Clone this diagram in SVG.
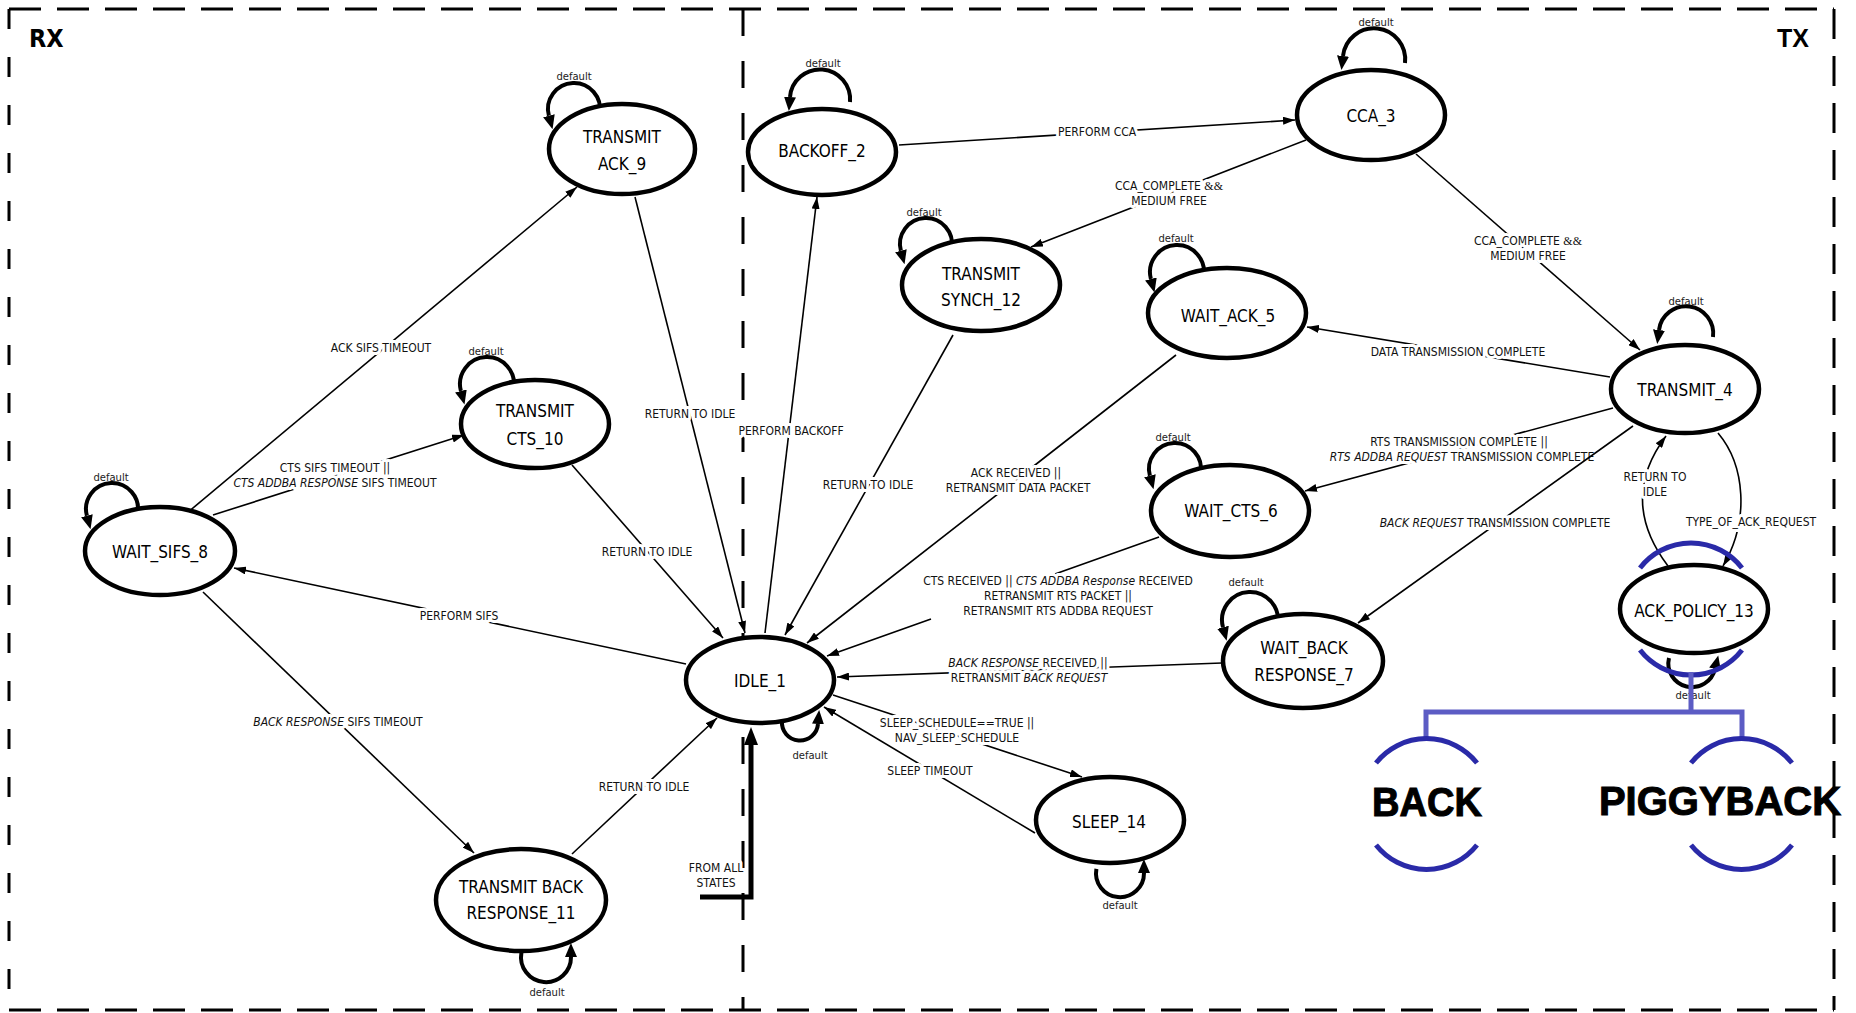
<svg xmlns="http://www.w3.org/2000/svg" width="1856" height="1013" viewBox="0 0 1856 1013">
<defs>
<style>
.fr{fill:none;stroke:#000;stroke-width:3}
.ed{fill:none;stroke:#000;stroke-width:1.6;marker-end:url(#ah)}
.lp{fill:none;stroke:#000;stroke-width:4;marker-end:url(#lh)}
.nd{fill:#fff;stroke:#000;stroke-width:4.5}
.nt{font-family:"DejaVu Sans Condensed","DejaVu Sans",sans-serif;font-stretch:condensed;font-size:17px;text-anchor:middle;fill:#000}
.el{font-family:"DejaVu Sans Condensed","DejaVu Sans",sans-serif;font-stretch:condensed;font-size:12px;text-anchor:middle;fill:#111;stroke:#fff;stroke-width:6;stroke-linejoin:round;paint-order:stroke}
.df{font-family:"DejaVu Sans",sans-serif;font-size:10px;text-anchor:middle;fill:#222}
.it{font-style:italic}
.sf{font-family:"Liberation Serif",serif}
.bl{fill:none;stroke:#2a2aa8;stroke-width:5}
.br{fill:none;stroke:#5c5cc4;stroke-width:5}
.big{font-family:"Liberation Sans",Arial,sans-serif;font-weight:bold;font-size:40px;text-anchor:middle;fill:#000;stroke:#000;stroke-width:1}
.hd{font-weight:bold;fill:#000}
</style>
<marker id="ah" viewBox="0 0 12 8" markerWidth="12" markerHeight="8" refX="12" refY="4" orient="auto" markerUnits="userSpaceOnUse"><path d="M0,0 L12,4 L0,8 z" fill="#000"/></marker>
<marker id="lh" viewBox="0 0 14 12" markerWidth="14" markerHeight="12" refX="0" refY="6" orient="auto" markerUnits="userSpaceOnUse"><path d="M0,0 L14,6 L0,12 z" fill="#000"/></marker>
<marker id="bh" viewBox="0 0 18 14" markerWidth="18" markerHeight="14" refX="0" refY="7" orient="auto" markerUnits="userSpaceOnUse"><path d="M0,0 L18,7 L0,14 z" fill="#000"/></marker>
</defs>
<rect width="1856" height="1013" fill="#fff"/>

<g id="frame">
<line class="fr" x1="9" y1="9" x2="1834" y2="9" stroke-dasharray="32 16"/>
<line class="fr" x1="9" y1="1010" x2="1834" y2="1010" stroke-dasharray="32 16"/>
<line class="fr" x1="9" y1="9" x2="9" y2="1010" stroke-dasharray="20 28"/>
<line class="fr" x1="1834" y1="9" x2="1834" y2="1010" stroke-dasharray="30 17"/>
<line class="fr" x1="743" y1="9" x2="743" y2="1010" stroke-dasharray="27 25"/>
<text x="29" y="47" font-family="DejaVu Sans Condensed, DejaVu Sans, sans-serif" font-stretch="condensed" font-size="25" class="hd">RX</text>
<text x="1777" y="47" font-family="Liberation Sans, Arial, sans-serif" font-size="25" class="hd">TX</text>
</g>

<g id="connectors">
<path class="lp" d="M599.6,113.5 A26,26 0 1 0 548.9,115.7"/>
<text class="df" x="574" y="80">default</text>
<path class="lp" d="M513.6,388.7 A27,27 0 1 0 460.9,391"/>
<text class="df" x="486" y="355">default</text>
<path class="lp" d="M137.6,513.5 A26,26 0 1 0 86.9,515.7"/>
<text class="df" x="111" y="481">default</text>
<path class="lp" d="M850,102 A30,30 0 1 0 790,97"/>
<text class="df" x="823" y="67">default</text>
<path class="lp" d="M1405,63 A31,31 0 1 0 1343,56"/>
<text class="df" x="1376" y="26">default</text>
<path class="lp" d="M951.6,248.5 A26,26 0 1 0 900.9,250.7"/>
<text class="df" x="924" y="216">default</text>
<path class="lp" d="M1203.6,276.7 A27,27 0 1 0 1150.9,279"/>
<text class="df" x="1176" y="242">default</text>
<path class="lp" d="M1200.6,473.5 A26,26 0 1 0 1149.9,475.7"/>
<text class="df" x="1173" y="441">default</text>
<path class="lp" d="M1713,337 A27,27 0 1 0 1659,330"/>
<text class="df" x="1686" y="305">default</text>
<path class="lp" d="M1277.6,624.9 A28,28 0 1 0 1223,627.3"/>
<text class="df" x="1246" y="586">default</text>
<path class="lp" d="M782,721 A18,18 0 1 0 818,724"/>
<text class="df" x="810" y="759">default</text>
<path class="lp" d="M521.4,952.7 A25,25 0 1 0 571,957"/>
<text class="df" x="547" y="996">default</text>
<path class="lp" d="M1096.4,868.8 A24,24 0 1 0 1144,873"/>
<text class="df" x="1120" y="909">default</text>
<path class="lp" d="M1669,658 A23,23 0 1 0 1715,669"/>
<text class="df" x="1693" y="699">default</text>

<path class="ed" d="M187,513 L577,187"/>
<text class="el" x="381" y="352">ACK SIFS TIMEOUT</text>
<path class="ed" d="M213,515 L464,435"/>
<text class="el" x="335" y="472">CTS SIFS TIMEOUT ||</text>
<text class="el" x="335" y="487"><tspan class="it">CTS ADDBA RESPONSE</tspan> SIFS TIMEOUT</text>
<path class="ed" d="M686,664 L234,568"/>
<text class="el" x="459" y="620">PERFORM SIFS</text>
<path class="ed" d="M203,592 L474,853"/>
<text class="el" x="338" y="726"><tspan class="it">BACK RESPONSE</tspan> SIFS TIMEOUT</text>
<path class="ed" d="M572,854 L717,718"/>
<text class="el" x="644" y="791">RETURN TO IDLE</text>
<path class="ed" d="M572,465 L723,638"/>
<text class="el" x="647" y="556">RETURN TO IDLE</text>
<path class="ed" d="M635,197 L745,633"/>
<text class="el" x="690" y="418">RETURN TO IDLE</text>
<path class="ed" d="M765,633 L817,197"/>
<text class="el" x="791" y="435">PERFORM BACKOFF</text>
<path class="ed" d="M953,335 L785,635"/>
<text class="el" x="868" y="489">RETURN TO IDLE</text>
<path class="ed" d="M1176,355 L807,643"/>
<text class="el" x="1016" y="477">ACK RECEIVED ||</text>
<text class="el" x="1018" y="492">RETRANSMIT DATA PACKET</text>
<path class="ed" d="M1159,537 L1055,574 M931,619 L827,656"/>
<text class="el" x="1058" y="585">CTS RECEIVED || <tspan class="it">CTS ADDBA Response</tspan> RECEIVED</text>
<text class="el" x="1058" y="600">RETRANSMIT RTS PACKET ||</text>
<text class="el" x="1058" y="615">RETRANSMIT RTS ADDBA REQUEST</text>
<path class="ed" d="M1222,663 L837,677"/>
<text class="el" x="1028" y="667"><tspan class="it">BACK RESPONSE</tspan> RECEIVED ||</text>
<text class="el" x="1029" y="682">RETRANSMIT <tspan class="it">BACK REQUEST</tspan></text>
<path class="ed" d="M833,695 L1082,777"/>
<text class="el" x="957" y="727">SLEEP_SCHEDULE==TRUE ||</text>
<text class="el" x="957" y="742">NAV_SLEEP_SCHEDULE</text>
<path class="ed" d="M1035,833 L824,707"/>
<text class="el" x="930" y="775">SLEEP TIMEOUT</text>
<path class="ed" d="M899,145 L1295,120"/>
<text class="el" x="1097" y="136">PERFORM CCA</text>
<path class="ed" d="M1306,140 L1031,247"/>
<text class="el" x="1169" y="190">CCA_COMPLETE <tspan class="sf">&amp;&amp;</tspan></text>
<text class="el" x="1169" y="205">MEDIUM FREE</text>
<path class="ed" d="M1416,154 L1640,350"/>
<text class="el" x="1528" y="245">CCA_COMPLETE <tspan class="sf">&amp;&amp;</tspan></text>
<text class="el" x="1528" y="260">MEDIUM FREE</text>
<path class="ed" d="M1610,377 L1307,327"/>
<text class="el" x="1458" y="356">DATA TRANSMISSION COMPLETE</text>
<path class="ed" d="M1613,408 L1305,491"/>
<text class="el" x="1459" y="446">RTS TRANSMISSION COMPLETE ||</text>
<text class="el" x="1462" y="461"><tspan class="it">RTS ADDBA REQUEST</tspan> TRANSMISSION COMPLETE</text>
<path class="ed" d="M1633,426 L1358,623"/>
<text class="el" x="1495" y="527"><tspan class="it">BACK REQUEST</tspan> TRANSMISSION COMPLETE</text>
<path class="ed" d="M1668,566 Q1618,500 1666,436"/>
<text class="el" x="1655" y="481">RETURN TO</text>
<text class="el" x="1655" y="496">IDLE</text>
<path class="ed" d="M1718,433 C1745,465 1750,520 1723,566"/>
<text class="el" x="1751" y="526">TYPE_OF_ACK_REQUEST</text>
<path d="M700,897 L751,897 L751,745" fill="none" stroke="#000" stroke-width="5" marker-end="url(#bh)"/>
<text class="el" x="716" y="872">FROM ALL</text>
<text class="el" x="716" y="887">STATES</text>
</g>

<g id="n-idle-1"><ellipse class="nd" cx="760" cy="680" rx="74" ry="43"/><text class="nt" x="760" y="687">IDLE_1</text></g>
<g id="n-backoff-2"><ellipse class="nd" cx="822" cy="152" rx="74" ry="43"/><text class="nt" x="822" y="157">BACKOFF_2</text></g>
<g id="n-cca-3"><ellipse class="nd" cx="1371" cy="115" rx="74" ry="45"/><text class="nt" x="1371" y="122">CCA_3</text></g>
<g id="n-transmit-4"><ellipse class="nd" cx="1685" cy="389" rx="74" ry="44"/><text class="nt" x="1685" y="396">TRANSMIT_4</text></g>
<g id="n-wait-ack-5"><ellipse class="nd" cx="1227" cy="313" rx="79" ry="45"/><text class="nt" x="1228" y="322">WAIT_ACK_5</text></g>
<g id="n-wait-cts-6"><ellipse class="nd" cx="1230" cy="511" rx="79" ry="46"/><text class="nt" x="1231" y="517">WAIT_CTS_6</text></g>
<g id="n-wait-back-response-7"><ellipse class="nd" cx="1303" cy="661" rx="80" ry="47"/><text class="nt" x="1304" y="654">WAIT_BACK</text><text class="nt" x="1304" y="681">RESPONSE_7</text></g>
<g id="n-wait-sifs-8"><ellipse class="nd" cx="160" cy="551" rx="75" ry="44"/><text class="nt" x="160" y="558">WAIT_SIFS_8</text></g>
<g id="n-transmit-ack-9"><ellipse class="nd" cx="622" cy="149" rx="73" ry="45"/><text class="nt" x="622" y="143">TRANSMIT</text><text class="nt" x="622" y="170">ACK_9</text></g>
<g id="n-transmit-cts-10"><ellipse class="nd" cx="535" cy="424" rx="74" ry="44"/><text class="nt" x="535" y="417">TRANSMIT</text><text class="nt" x="535" y="445">CTS_10</text></g>
<g id="n-transmit-back-response-11"><ellipse class="nd" cx="521" cy="900" rx="85" ry="51"/><text class="nt" x="521" y="893">TRANSMIT BACK</text><text class="nt" x="521" y="919">RESPONSE_11</text></g>
<g id="n-transmit-synch-12"><ellipse class="nd" cx="981" cy="285" rx="79" ry="46"/><text class="nt" x="981" y="280">TRANSMIT</text><text class="nt" x="981" y="306">SYNCH_12</text></g>
<g id="n-ack-policy-13"><ellipse class="nd" cx="1694" cy="609" rx="74" ry="44"/><text class="nt" x="1694" y="617">ACK_POLICY_13</text></g>
<g id="n-sleep-14"><ellipse class="nd" cx="1110" cy="820" rx="74" ry="43"/><text class="nt" x="1109" y="828">SLEEP_14</text></g>

<g id="ack-policy-tree">
<path class="bl" d="M1640,568 A64.5,64.5 0 0 1 1742,568"/>
<path class="bl" d="M1640,650 A64.5,64.5 0 0 0 1742,650"/>
<path class="br" d="M1691,672 L1691,712 M1426,738 L1426,712 L1742,712 L1742,738"/>
<path class="bl" d="M1376,763 A64.5,64.5 0 0 1 1477,763"/>
<path class="bl" d="M1376,845 A64.5,64.5 0 0 0 1477,845"/>
<text class="big" x="1427" y="816" textLength="110" lengthAdjust="spacingAndGlyphs">BACK</text>
<path class="bl" d="M1691,763 A64.5,64.5 0 0 1 1792,763"/>
<path class="bl" d="M1691,845 A64.5,64.5 0 0 0 1792,845"/>
<text class="big" x="1720" y="815" font-size="36">PIGGYBACK</text>
</g>
</svg>
